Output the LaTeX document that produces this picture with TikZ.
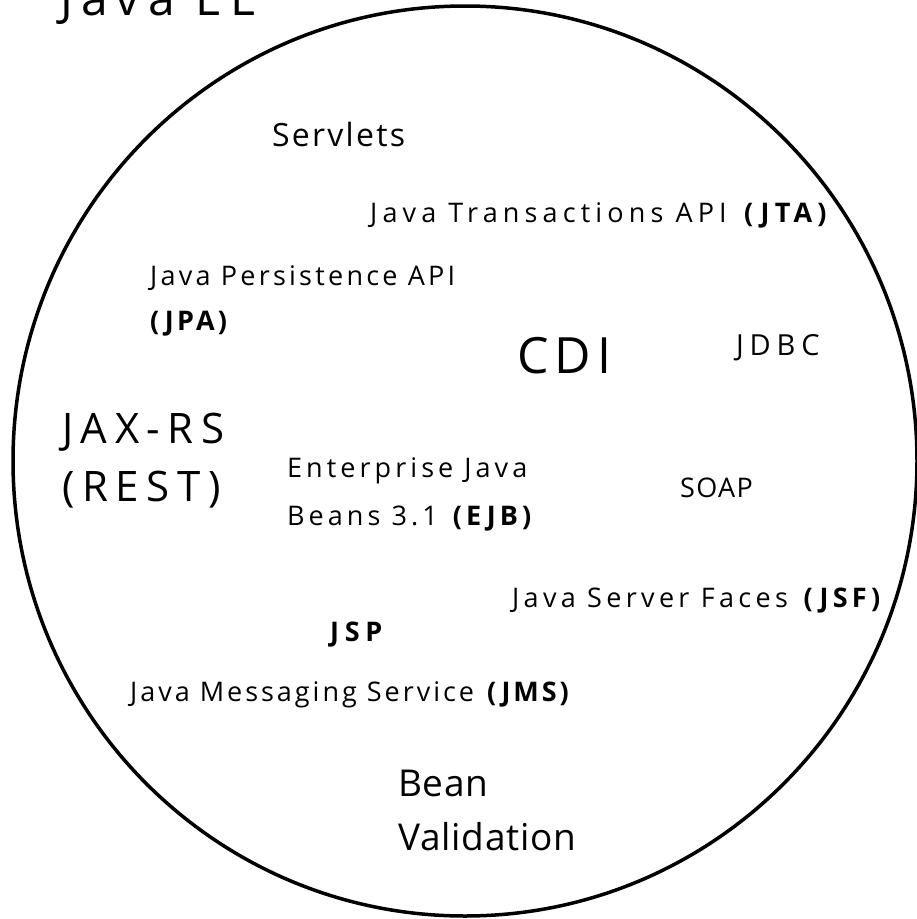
\documentclass[tikz,border=0pt]{standalone}
\usepackage{fontspec}
\newfontfamily\hand{Open Sans}
\usetikzlibrary{positioning}

\tikzset{
  spec/.style={anchor=base west, inner sep=0pt, align=left},
}
% size, line distance, letter spacing
\newcommand{\fs}[3]{\hand\addfontfeatures{LetterSpace=#3}\fontsize{#1}{#2}\selectfont}

\begin{document}
\begin{tikzpicture}[x=1pt, y=-1pt]

                \useasboundingbox (0,0) rectangle (917,919);

                % Titulo
                \node[spec, font=\fs{48}{50}{17}] (title) at (60,15) {Java EE};

                % Circulo
                \draw[line width=3.5pt] (465,461) ellipse (452 and 455);

                % Especificacoes
                \node[spec, font=\fs{32}{38}{7}] (servlets) at (272,146) {Servlets};
                \node[spec, font=\fs{27}{30}{19}] (jta) at (370,222) {Java Transactions API \textbf{(JTA)}};
                \node[spec, font=\fs{27}{45}{12}] (jpa) at (150,330) {Java Persistence API\\\textbf{(JPA)}};
                \node[spec, font=\fs{50}{56}{12}] (cdi) at (517,373) {CDI};
                \node[spec, font=\fs{29}{32}{20}] (jdbc) at (736,355) {JDBC};
                \node[spec, font=\fs{42}{58}{18}] (jaxrs) at (62,501) {JAX-RS\\(REST)};
                \node[spec, font=\fs{27}{48}{15}] (ejb) at (287,525) {Enterprise Java\\Beans 3.1 \textbf{(EJB)}};
                \node[spec, font=\fs{27}{32}{5}] (soap) at (680,497) {SOAP};
                \node[spec, font=\fs{27}{30}{16}] (jsf) at (512,607) {Java Server Faces \textbf{(JSF)}};
                \node[spec, font=\fs{27}{30}{21}] (jsp) at (330,641) {\textbf{JSP}};
                \node[spec, font=\fs{27}{30}{11}] (jms) at (130,701) {Java Messaging Service \textbf{(JMS)}};
                \node[spec, font=\fs{37}{54}{2}] (bv) at (398,850) {Bean\\Validation};

            \end{tikzpicture}
\end{document}
